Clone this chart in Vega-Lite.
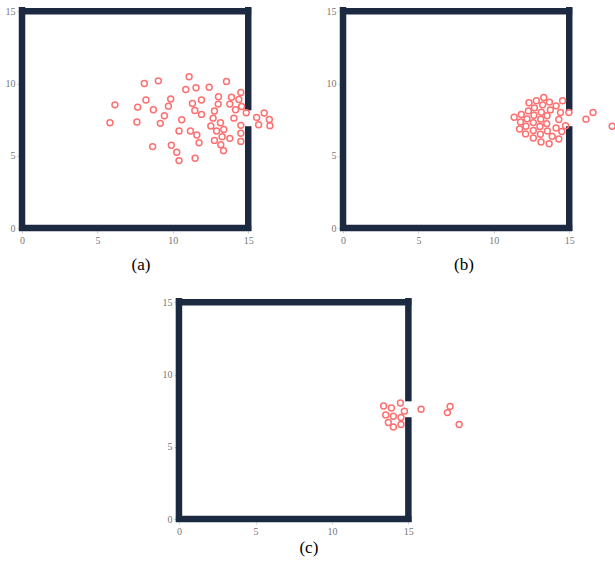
{
  "$schema": "https://vega.github.io/schema/vega-lite/v6.json",
  "padding": {"left": 5, "top": 3, "right": 0, "bottom": 5},
  "background": "white",
  "config": {
    "view": {"stroke": null},
    "title": {"font": "Liberation Serif", "fontSize": 17, "fontWeight": "normal", "color": "#000000", "orient": "bottom", "offset": 12},
    "concat": {"spacing": 25}
  },
  "datasets": {
    "walls": [
      {"x": -0.2, "y": 0, "x2": 15.2, "y2": 0},
      {"x": -0.2, "y": 15, "x2": 15.2, "y2": 15},
      {"x": 0, "y": -0.2, "x2": 0, "y2": 15.3},
      {"x": 15, "y": -0.2, "x2": 15, "y2": 7.05},
      {"x": 15, "y": 8.15, "x2": 15, "y2": 15.3}
    ],
    "peds": [
      {"panel": "a", "x": 5.83, "y": 7.29}, {"panel": "a", "x": 6.16, "y": 8.53}, {"panel": "a", "x": 7.62, "y": 7.34},
      {"panel": "a", "x": 7.67, "y": 8.37}, {"panel": "a", "x": 8.11, "y": 10.01}, {"panel": "a", "x": 8.22, "y": 8.86},
      {"panel": "a", "x": 8.71, "y": 8.19}, {"panel": "a", "x": 8.66, "y": 5.64}, {"panel": "a", "x": 9.04, "y": 10.19},
      {"panel": "a", "x": 9.17, "y": 7.25}, {"panel": "a", "x": 9.44, "y": 7.78}, {"panel": "a", "x": 9.71, "y": 8.44},
      {"panel": "a", "x": 9.86, "y": 8.93}, {"panel": "a", "x": 9.9, "y": 5.73}, {"panel": "a", "x": 10.26, "y": 5.25},
      {"panel": "a", "x": 10.41, "y": 4.67}, {"panel": "a", "x": 10.41, "y": 6.72}, {"panel": "a", "x": 10.59, "y": 7.5},
      {"panel": "a", "x": 10.86, "y": 9.59}, {"panel": "a", "x": 11.08, "y": 10.47}, {"panel": "a", "x": 11.17, "y": 6.72},
      {"panel": "a", "x": 11.3, "y": 8.63}, {"panel": "a", "x": 11.46, "y": 8.14}, {"panel": "a", "x": 11.48, "y": 4.83},
      {"panel": "a", "x": 11.54, "y": 9.71}, {"panel": "a", "x": 11.59, "y": 6.44}, {"panel": "a", "x": 11.74, "y": 5.91},
      {"panel": "a", "x": 11.9, "y": 8.86}, {"panel": "a", "x": 11.9, "y": 7.87}, {"panel": "a", "x": 12.41, "y": 9.75},
      {"panel": "a", "x": 12.52, "y": 7.06}, {"panel": "a", "x": 12.67, "y": 7.61}, {"panel": "a", "x": 12.76, "y": 8.1},
      {"panel": "a", "x": 12.76, "y": 6.07}, {"panel": "a", "x": 12.9, "y": 6.72}, {"panel": "a", "x": 13.01, "y": 8.58},
      {"panel": "a", "x": 13.03, "y": 9.09}, {"panel": "a", "x": 13.16, "y": 7.29}, {"panel": "a", "x": 13.27, "y": 6.33},
      {"panel": "a", "x": 13.38, "y": 6.83}, {"panel": "a", "x": 13.18, "y": 5.77}, {"panel": "a", "x": 13.36, "y": 5.36},
      {"panel": "a", "x": 13.56, "y": 10.14}, {"panel": "a", "x": 13.78, "y": 8.58}, {"panel": "a", "x": 13.78, "y": 6.21},
      {"panel": "a", "x": 13.89, "y": 9.06}, {"panel": "a", "x": 14.05, "y": 7.61}, {"panel": "a", "x": 14.16, "y": 8.19},
      {"panel": "a", "x": 14.38, "y": 8.9}, {"panel": "a", "x": 14.51, "y": 9.39}, {"panel": "a", "x": 14.56, "y": 8.42},
      {"panel": "a", "x": 14.51, "y": 7.11}, {"panel": "a", "x": 14.51, "y": 6.56}, {"panel": "a", "x": 14.51, "y": 6.0},
      {"panel": "a", "x": 14.87, "y": 7.98}, {"panel": "a", "x": 15.56, "y": 7.66}, {"panel": "a", "x": 15.69, "y": 7.15},
      {"panel": "a", "x": 16.06, "y": 7.96}, {"panel": "a", "x": 16.4, "y": 7.52}, {"panel": "a", "x": 16.44, "y": 7.09},

      {"panel": "b", "x": 11.35, "y": 7.67}, {"panel": "b", "x": 11.82, "y": 7.86}, {"panel": "b", "x": 11.77, "y": 7.35},
      {"panel": "b", "x": 11.71, "y": 6.86}, {"panel": "b", "x": 12.13, "y": 7.05}, {"panel": "b", "x": 12.11, "y": 6.52},
      {"panel": "b", "x": 12.2, "y": 7.56}, {"panel": "b", "x": 12.29, "y": 8.11}, {"panel": "b", "x": 12.33, "y": 8.67},
      {"panel": "b", "x": 12.62, "y": 6.75}, {"panel": "b", "x": 12.62, "y": 6.24}, {"panel": "b", "x": 12.62, "y": 7.3},
      {"panel": "b", "x": 12.66, "y": 7.81}, {"panel": "b", "x": 12.69, "y": 8.32}, {"panel": "b", "x": 12.82, "y": 8.81},
      {"panel": "b", "x": 13.06, "y": 7.03}, {"panel": "b", "x": 13.09, "y": 6.49}, {"panel": "b", "x": 13.11, "y": 7.54},
      {"panel": "b", "x": 13.15, "y": 8.02}, {"panel": "b", "x": 13.24, "y": 8.53}, {"panel": "b", "x": 13.13, "y": 5.96},
      {"panel": "b", "x": 13.31, "y": 9.04}, {"panel": "b", "x": 13.53, "y": 7.77}, {"panel": "b", "x": 13.51, "y": 7.23},
      {"panel": "b", "x": 13.55, "y": 6.72}, {"panel": "b", "x": 13.69, "y": 8.72}, {"panel": "b", "x": 13.67, "y": 5.84},
      {"panel": "b", "x": 13.75, "y": 8.18}, {"panel": "b", "x": 13.87, "y": 6.35}, {"panel": "b", "x": 14.13, "y": 8.46},
      {"panel": "b", "x": 14.13, "y": 6.93}, {"panel": "b", "x": 14.31, "y": 7.51}, {"panel": "b", "x": 14.31, "y": 6.17},
      {"panel": "b", "x": 14.42, "y": 8.0}, {"panel": "b", "x": 14.51, "y": 6.68}, {"panel": "b", "x": 14.56, "y": 8.81},
      {"panel": "b", "x": 14.76, "y": 7.09}, {"panel": "b", "x": 14.98, "y": 8.0}, {"panel": "b", "x": 16.11, "y": 7.54},
      {"panel": "b", "x": 16.58, "y": 8.0}, {"panel": "b", "x": 17.85, "y": 7.05},

      {"panel": "c", "x": 13.38, "y": 7.83}, {"panel": "c", "x": 13.89, "y": 7.69}, {"panel": "c", "x": 14.48, "y": 8.04},
      {"panel": "c", "x": 13.52, "y": 7.21}, {"panel": "c", "x": 14.02, "y": 7.12}, {"panel": "c", "x": 14.74, "y": 7.47},
      {"panel": "c", "x": 14.52, "y": 7.03}, {"panel": "c", "x": 13.69, "y": 6.69}, {"panel": "c", "x": 14.02, "y": 6.37},
      {"panel": "c", "x": 14.52, "y": 6.55}, {"panel": "c", "x": 15.83, "y": 7.6}, {"panel": "c", "x": 17.55, "y": 7.37},
      {"panel": "c", "x": 17.73, "y": 7.79}, {"panel": "c", "x": 18.32, "y": 6.55}
    ]
  },
  "center": true,
  "spacing": 21,
  "vconcat": [
    {
      "hconcat": [
        {
          "width": 282, "height": 224,
          "title": {"text": "(a)", "dx": -19},
          "layer": [
            {"data": {"name": "walls"}, "mark": {"type": "rule", "color": "#1b2a41", "strokeWidth": 6.5},
             "encoding": {"x": {"field": "x", "type": "quantitative", "scale": {"domain": [-0.2, 18.5], "nice": false},
                                "axis": {"values": [0, 5, 10, 15], "title": null, "domain": false, "grid": false, "tickSize": 2, "tickColor": "#cccccc", "labelFont": "Liberation Serif", "labelFontSize": 10, "labelColor": "#777777", "labelPadding": 2}},
                          "y": {"field": "y", "type": "quantitative", "scale": {"domain": [-0.2, 15.3], "nice": false},
                                "axis": {"values": [0, 5, 10, 15], "title": null, "domain": false, "grid": false, "tickSize": 2, "tickColor": "#cccccc", "labelFont": "Liberation Serif", "labelFontSize": 10, "labelColor": "#777777", "labelPadding": 2}},
                          "x2": {"field": "x2"}, "y2": {"field": "y2"}}},
            {"data": {"name": "peds"}, "transform": [{"filter": "datum.panel === 'a'"}],
             "mark": {"type": "point", "shape": "circle", "filled": false, "color": "#ff6f6f", "strokeWidth": 1.5, "size": 35, "opacity": 1},
             "encoding": {"x": {"field": "x", "type": "quantitative"}, "y": {"field": "y", "type": "quantitative"}}}
          ]
        },
        {
          "width": 282, "height": 224,
          "title": {"text": "(b)", "dx": -17},
          "layer": [
            {"data": {"name": "walls"}, "mark": {"type": "rule", "color": "#1b2a41", "strokeWidth": 6.5},
             "encoding": {"x": {"field": "x", "type": "quantitative", "scale": {"domain": [-0.2, 18.5], "nice": false},
                                "axis": {"values": [0, 5, 10, 15], "title": null, "domain": false, "grid": false, "tickSize": 2, "tickColor": "#cccccc", "labelFont": "Liberation Serif", "labelFontSize": 10, "labelColor": "#777777", "labelPadding": 2}},
                          "y": {"field": "y", "type": "quantitative", "scale": {"domain": [-0.2, 15.3], "nice": false},
                                "axis": {"values": [0, 5, 10, 15], "title": null, "domain": false, "grid": false, "tickSize": 2, "tickColor": "#cccccc", "labelFont": "Liberation Serif", "labelFontSize": 10, "labelColor": "#777777", "labelPadding": 2}},
                          "x2": {"field": "x2"}, "y2": {"field": "y2"}}},
            {"data": {"name": "peds"}, "transform": [{"filter": "datum.panel === 'b'"}],
             "mark": {"type": "point", "shape": "circle", "filled": false, "color": "#ff6f6f", "strokeWidth": 1.5, "size": 35, "opacity": 1},
             "encoding": {"x": {"field": "x", "type": "quantitative"}, "y": {"field": "y", "type": "quantitative"}}}
          ]
        }
      ]
    },
    {
      "width": 286, "height": 224,
      "title": {"text": "(c)", "dx": -10, "offset": 4},
      "layer": [
        {"data": {"name": "walls"}, "mark": {"type": "rule", "color": "#1b2a41", "strokeWidth": 6.5},
         "encoding": {"x": {"field": "x", "type": "quantitative", "scale": {"domain": [-0.2, 18.5], "nice": false},
                            "axis": {"values": [0, 5, 10, 15], "title": null, "domain": false, "grid": false, "tickSize": 2, "tickColor": "#cccccc", "labelFont": "Liberation Serif", "labelFontSize": 10, "labelColor": "#777777", "labelPadding": 2}},
                      "y": {"field": "y", "type": "quantitative", "scale": {"domain": [-0.2, 15.3], "nice": false},
                            "axis": {"values": [0, 5, 10, 15], "title": null, "domain": false, "grid": false, "tickSize": 2, "tickColor": "#cccccc", "labelFont": "Liberation Serif", "labelFontSize": 10, "labelColor": "#777777", "labelPadding": 2}},
                      "x2": {"field": "x2"}, "y2": {"field": "y2"}}},
        {"data": {"name": "peds"}, "transform": [{"filter": "datum.panel === 'c'"}],
         "mark": {"type": "point", "shape": "circle", "filled": false, "color": "#ff6f6f", "strokeWidth": 1.5, "size": 35, "opacity": 1},
         "encoding": {"x": {"field": "x", "type": "quantitative"}, "y": {"field": "y", "type": "quantitative"}}}
      ]
    }
  ]
}
